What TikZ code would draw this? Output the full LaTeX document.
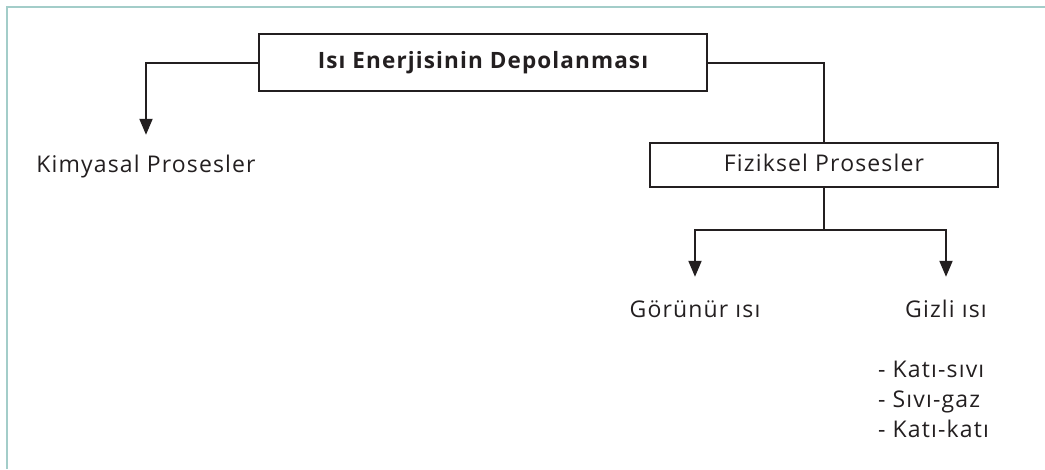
\documentclass[tikz,border=0pt]{standalone}
\usepackage{fontspec}
\setmainfont{Open Sans}[LetterSpace=5]
\usetikzlibrary{arrows.meta}
\definecolor{cerceve}{HTML}{A3CDC9}
\definecolor{koyu}{HTML}{231F20}
\tikzset{
	kutu/.style={draw=koyu, line width=2.4pt, inner sep=0pt},
	yazi/.style={text=koyu, font=\fontsize{23}{27}\selectfont, inner sep=0pt, text height=17pt, text depth=5pt},
	cizgi/.style={draw=koyu, line width=2pt},
	ok/.style={cizgi, -{Triangle[length=16pt, width=13pt]}}
}

\begin{document}
\begin{tikzpicture}[x=1pt, y=-1pt]
		%%%%% START %%%%%
		\useasboundingbox (0, 0) rectangle (1045, 469);
		\draw[color=cerceve, line width=2.2pt] (7, 469) -- (7, 7) -- (1045, 7);
		
		\node[kutu, yazi, font=\fontsize{22.5}{27}\selectfont\bfseries, minimum width=448pt, minimum height=57pt] (depo) at (483, 62.5) {Isı Enerjisinin Depolanması};
		\node[kutu, yazi, minimum width=348pt, minimum height=44pt] (fiziksel) at (824, 165) {Fiziksel Prosesler};
		
		\node[yazi, anchor=base] (kimyasal) at (146, 172) {Kimyasal Prosesler};
		\node[yazi, anchor=base] (gorunur) at (695, 317) {Görünür ısı};
		\node[yazi, anchor=base] (gizli) at (946, 317) {Gizli ısı};
		
		\node[yazi, anchor=base west] (katisivi) at (878, 377) {- Katı-sıvı};
		\node[yazi, anchor=base west] (sivigaz) at (878, 407) {- Sıvı-gaz};
		\node[yazi, anchor=base west] (katikati) at (878, 437) {- Katı-katı};
		
		\draw[ok, shorten >=20pt] (depo.west) -| (kimyasal.north);
		\draw[cizgi] (depo.east) -| (fiziksel.north);
		
		\draw[cizgi] (fiziksel.south) -- ++(0, 42) coordinate (ayrim);
		\draw[ok, shorten >=23pt] (ayrim) -| (gorunur.north);
		\draw[ok, shorten >=23pt] (ayrim) -| (gizli.north);
		%%%%% END %%%%%
\end{tikzpicture}
\end{document}
